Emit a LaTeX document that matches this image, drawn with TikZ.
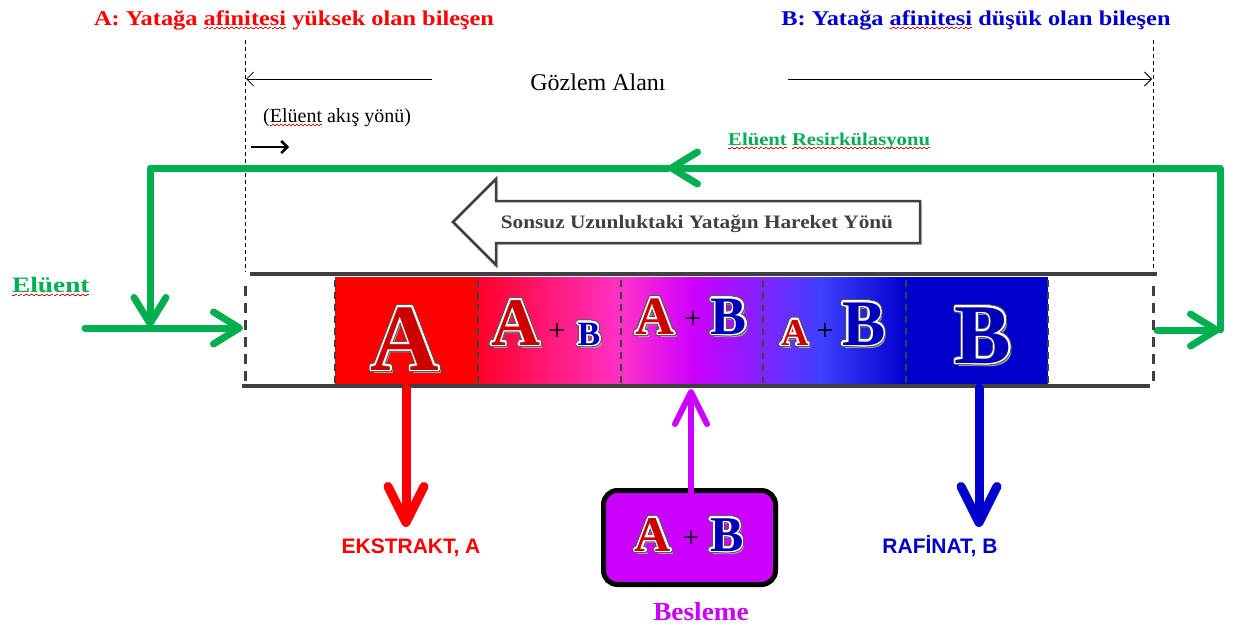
\documentclass[tikz,border=0pt]{standalone}
\usepackage{fontspec}
\setmainfont{Liberation Serif}
\setsansfont{Liberation Sans}
\usepackage{graphicx}
\usepackage[copies]{contour}
\usetikzlibrary{arrows.meta,shadows}

\definecolor{flowgreen}{RGB}{0,176,80}
\definecolor{compA}{RGB}{255,0,0}
\definecolor{compB}{RGB}{0,0,204}
\definecolor{feedmag}{RGB}{204,0,255}
\definecolor{wall}{RGB}{64,64,64}
\definecolor{glyphA}{RGB}{205,0,0}
\definecolor{glyphB}{RGB}{0,0,185}

% red zigzag spell-check mark under a word, built from tiny rules
\newsavebox\spellbox
\newcommand\spellmark[1]{\sbox\spellbox{#1}%
  \rlap{\lower4pt\hbox to\wd\spellbox{\color{red}%
    \xleaders\hbox{\rule{2pt}{1pt}\rule[1.3pt]{2pt}{1pt}}\hfill}}%
  \usebox\spellbox}

% wide setting of a bold label
\newcommand\wide[2]{\scalebox{#1}[1]{#2}}

% engraved letter: shadow, dark rim, white ring, coloured body
\newcommand\wordart[3]{{\fontsize{#1}{#1}\selectfont\bfseries
  \contournumber{20}%
  \rlap{\kern2.5pt\raisebox{-3pt}{\textcolor{black!35}{#3}}}%
  \rlap{\contourlength{2.6pt}\textcolor{black!65}{\contour{black!65}{#3}}}%
  \contourlength{1.5pt}\textcolor{#2}{\contour{white}{#3}}}}

\begin{document}
\begin{tikzpicture}[x=1pt,y=-1pt,
  titletext/.style={anchor=base,inner sep=0pt,font=\fontsize{21}{24}\selectfont\bfseries},
  zoneline/.style={draw=black,line width=0.8pt,dash pattern=on 4pt off 3pt},
  spanarrow/.style={draw=black,line width=0.8pt,-{Straight Barb[length=7pt,width=14pt]}},
  flowarrow/.style={draw=flowgreen,line width=7pt,line cap=round,line join=round,
    -{Straight Barb[length=26pt,width=32pt,line cap=round,line join=round]}},
  bedarrow/.style={draw=wall,line width=2.5pt,fill=white,
    drop shadow={shadow xshift=2pt,shadow yshift=-2pt,opacity=0.3}},
  wallline/.style={draw=wall,line width=4pt},
  enddash/.style={draw=wall,line width=3pt,dash pattern=on 10pt off 7pt},
  divider/.style={draw=wall,line width=1.8pt,dash pattern=on 7pt off 5pt},
  glyph/.style={anchor=base,inner sep=0pt},
  plus/.style={inner sep=0pt,font=\fontsize{30}{30}\selectfont},
  outarrow/.style={line width=9pt,line cap=round,line join=round,
    -{Straight Barb[length=36pt,width=36pt,line cap=round,line join=round]}},
  feedarrow/.style={draw=feedmag,line width=6pt,line cap=round,line join=round,
    -{Straight Barb[length=32pt,width=32pt,line cap=round,line join=round]}},
  prodlabel/.style={anchor=base,inner sep=0pt,font=\fontsize{21}{24}\selectfont\sffamily\bfseries}]

\fill[white] (0,0) rectangle (1235,629);
\useasboundingbox (0,0) rectangle (1235,629);

% ---- component titles
\node[titletext,text=compA] (titleA) at (294,25) {\wide{1.16}{A: Yatağa \spellmark{afinitesi} yüksek olan bileşen}};
\node[titletext,text=compB] (titleB) at (976,25) {\wide{1.16}{B: Yatağa \spellmark{afinitesi} düşük olan bileşen}};

% ---- observation zone
\coordinate (obsLt) at (245,40);  \coordinate (obsLb) at (245,272);
\coordinate (obsRt) at (1153,40); \coordinate (obsRb) at (1153,270);
\draw[zoneline] (obsLt) -- (obsLb);
\draw[zoneline] (obsRt) -- (obsRb);
\node[anchor=base,inner sep=0pt,font=\fontsize{24}{26}\selectfont] (zone) at (598,90) {Gözlem Alanı};
\coordinate (zoneLs) at (432,79); \coordinate (zoneLe) at (246,79);
\coordinate (zoneRs) at (788,79); \coordinate (zoneRe) at (1152,79);
\draw[spanarrow] (zoneLs) -- (zoneLe);
\draw[spanarrow] (zoneRs) -- (zoneRe);

% ---- eluent flow direction
\node[anchor=base west,inner sep=0pt,font=\fontsize{20}{22}\selectfont] (flowdir) at (263,122) {(\spellmark{Elüent} akış yönü)};
\coordinate (dirS) at (251,147); \coordinate (dirE) at (289,147);
\draw[line width=2.5pt,-{Straight Barb[length=6pt,width=12pt]}] (dirS) -- (dirE);

% ---- eluent recirculation loop
\coordinate (inletS) at (85,328);
\coordinate (colInL) at (243,328);
\coordinate (colOutR) at (1157,330);
\coordinate (loopR) at (1220,330);
\coordinate (loopRT) at (1220,168);
\coordinate (loopMid) at (668,168);
\coordinate (loopLT) at (150,168);
\coordinate (loopLB) at (150,327);
\draw[flowarrow] (colOutR) -- (loopR);
\draw[flowarrow] (loopR) -- (loopRT) -- (loopMid);
\draw[flowarrow] (loopMid) -- (loopLT) -- (loopLB);
\draw[flowarrow] (inletS) -- (colInL);
\node[anchor=base west,inner sep=0pt,text=flowgreen,font=\fontsize{22}{24}\selectfont\bfseries] (eluent) at (12,292) {\wide{1.24}{\spellmark{Elüent}}};
\node[anchor=base west,inner sep=0pt,text=flowgreen,font=\fontsize{18}{20}\selectfont\bfseries] (recirc) at (728,145) {\wide{1.15}{\spellmark{Elüent} \spellmark{Resirkülasyonu}}};

% ---- moving bed direction
\draw[bedarrow] (453,222) -- (496,179) -- (496,201) -- (920,201) -- (920,243) -- (496,243) -- (496,265) -- cycle;
\node[anchor=base,inner sep=0pt,text=wall,font=\fontsize{19}{22}\selectfont\bfseries] (bed) at (697,228) {\wide{1.12}{Sonsuz Uzunluktaki Yatağın Hareket Yönü}};

% ---- concentration bands in the column
\fill[compA] (335,277) rectangle (478.5,385);
\shade[left color={rgb,255:red,255;green,0;blue,40},right color={rgb,255:red,255;green,50;blue,200}] (478,277) rectangle (621.5,385);
\shade[left color={rgb,255:red,255;green,50;blue,200},right color=feedmag] (621,277) rectangle (694.5,385);
\shade[left color=feedmag,right color={rgb,255:red,64;green,64;blue,255}] (694,277) rectangle (820.5,385);
\shade[left color={rgb,255:red,64;green,64;blue,255},right color=compB] (820,277) rectangle (906.5,385);
\fill[compB] (906,277) rectangle (1048,385);
\foreach \xd in {335,478,621,763,906,1048}
  \draw[divider] (\xd,280) -- (\xd,384);

% letters in the bands
\node[glyph] (s1A) at (405,370) {\wordart{95}{glyphA}{A}};
\node[glyph] (s2A) at (516,345) {\wordart{68}{glyphA}{A}};
\node[plus] (s2p) at (557,332) {+};
\node[glyph] (s2B) at (589,345) {\wordart{34}{glyphB}{B}};
\node[glyph] (s3A) at (655,334) {\wordart{54}{glyphA}{A}};
\node[plus] (s3p) at (693,320) {+};
\node[glyph] (s3B) at (729,334) {\wordart{54}{glyphB}{B}};
\node[glyph] (s4A) at (795,345) {\wordart{38}{glyphA}{A}};
\node[plus] (s4p) at (825,332) {+};
\node[glyph] (s4B) at (864,345) {\wordart{65}{glyphB}{B}};
\node[glyph] (s5B) at (983,363) {\wordart{85}{glyphB}{B}};

% column walls and open ends
\coordinate (wallTl) at (250,274); \coordinate (wallTr) at (1157,274);
\coordinate (wallBl) at (242,386); \coordinate (wallBr) at (1150,386);
\draw[wallline] (wallTl) -- (wallTr);
\draw[wallline] (wallBl) -- (wallBr);
\coordinate (endLt) at (245,286); \coordinate (endLb) at (245,385);
\coordinate (endRt) at (1153,286); \coordinate (endRb) at (1153,385);
\draw[enddash] (endLt) -- (endLb);
\draw[enddash] (endRt) -- (endRb);

% ---- extract and raffinate withdrawal
\coordinate (extS) at (406,388); \coordinate (extE) at (406,527);
\draw[outarrow,draw=compA] (extS) -- (extE);
\node[prodlabel,text=compA] (extract) at (411,553) {EKSTRAKT, A};
\coordinate (rafS) at (979,388); \coordinate (rafE) at (979,527);
\draw[outarrow,draw=compB] (rafS) -- (rafE);
\node[prodlabel,text=compB] (raffinate) at (940,553) {RAFİNAT, B};

% ---- feed
\node[draw=black,line width=5pt,fill=feedmag,rounded corners=14pt,minimum width=172pt,minimum height=94pt,inner sep=0pt] (feed) at (689.5,537.5) {};
\node[glyph] (fA) at (653,551) {\wordart{50}{glyphA}{A}};
\node[plus] (fp) at (691,539) {+};
\node[glyph] (fB) at (727,551) {\wordart{50}{glyphB}{B}};
\coordinate (feedS) at (691,507); \coordinate (feedE) at (691,389);
\draw[feedarrow] (feedS) -- (feedE);
\node[anchor=base,inner sep=0pt,text=feedmag,font=\fontsize{26}{28}\selectfont\bfseries] (besleme) at (701,620) {\wide{1.05}{Besleme}};

\end{tikzpicture}
\end{document}
